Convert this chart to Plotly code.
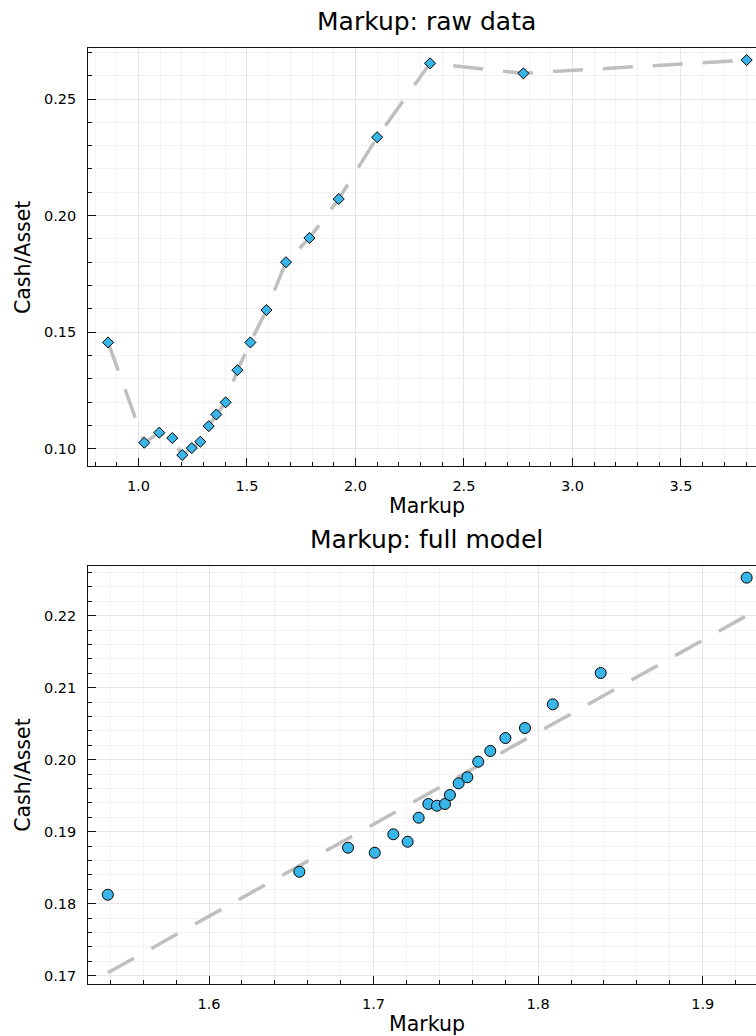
import plotly.graph_objects as go

# ---------------- data ----------------
raw_markup = [0.860, 1.027, 1.096, 1.156, 1.202, 1.246, 1.285, 1.324, 1.359, 1.402,
              1.456, 1.516, 1.590, 1.680, 1.788, 1.923, 2.100, 2.344, 2.774, 3.803]
raw_cash = [0.1456, 0.1026, 0.1069, 0.1046, 0.0973, 0.1003, 0.1030, 0.1097, 0.1147, 0.1199,
            0.1337, 0.1456, 0.1595, 0.1800, 0.1904, 0.2071, 0.2336, 0.2653, 0.2610, 0.2667]

model_markup = [1.5385, 1.6549, 1.6845, 1.7007, 1.7120, 1.7207, 1.7274, 1.7333, 1.7385, 1.7434,
                1.7464, 1.7517, 1.7570, 1.7636, 1.7709, 1.7801, 1.7920, 1.8089, 1.8380, 1.9267]
model_cash = [0.18125, 0.18444, 0.18778, 0.18708, 0.18964, 0.18861, 0.19194, 0.19385, 0.19361, 0.19385,
              0.19510, 0.19672, 0.19756, 0.19972, 0.20121, 0.20301, 0.20440, 0.20769, 0.21204, 0.22528]

fit_markup = [1.5385, 1.9267]
fit_cash = [0.1704, 0.2200]

titles = ["Markup: raw data", "Markup: full model"]
x_label = "Markup"
y_label = "Cash/Asset"

# ---------------- style ----------------
W, H = 756, 1036
FONT = "DejaVu Sans"
MARKER_COLOR = "#38b5e9"
LINE_COLOR = "#bfbfbf"
DASH = "30px,20px"
GRID = "#e6e6e6"
MINOR_GRID = "#f3f3f3"
AXIS_COLOR = "#111111"

def py(p):
    return 1 - p / H

def px(p):
    return p / W

fig = go.Figure()

# top panel
fig.add_trace(go.Scatter(x=raw_markup, y=raw_cash, mode="lines",
                         line=dict(color=LINE_COLOR, width=3.5, dash=DASH),
                         xaxis="x", yaxis="y", hoverinfo="skip"))
fig.add_trace(go.Scatter(x=raw_markup, y=raw_cash, mode="markers",
                         marker=dict(symbol="diamond", size=8.5, color=MARKER_COLOR,
                                     line=dict(color="black", width=1)),
                         xaxis="x", yaxis="y"))
# bottom panel
fig.add_trace(go.Scatter(x=fit_markup, y=fit_cash, mode="lines",
                         line=dict(color=LINE_COLOR, width=3.5, dash=DASH),
                         xaxis="x2", yaxis="y2", hoverinfo="skip"))
fig.add_trace(go.Scatter(x=model_markup, y=model_cash, mode="markers",
                         marker=dict(symbol="circle", size=11, color=MARKER_COLOR,
                                     line=dict(color="black", width=1)),
                         xaxis="x2", yaxis="y2"))

tickfont = dict(family=FONT, size=14.5, color="black")

def xaxis(anchor, rng, dtick, minor, fmt):
    return dict(anchor=anchor, domain=[px(88.3), 1.0], range=rng,
                tick0=0, dtick=dtick, tickformat=fmt,
                ticks="inside", ticklen=8, tickwidth=1, tickcolor=AXIS_COLOR,
                showline=True, linecolor=AXIS_COLOR, linewidth=1.2, mirror=True,
                showgrid=True, gridcolor=GRID, gridwidth=1, zeroline=False,
                minor=dict(dtick=minor, ticks="inside", ticklen=4, tickcolor=AXIS_COLOR,
                           showgrid=True, gridcolor=MINOR_GRID, gridwidth=1),
                tickfont=tickfont, ticklabelstandoff=6)

def yaxis(anchor, dom, rng, dtick, minor, fmt):
    return dict(anchor=anchor, domain=dom, range=rng,
                tick0=0, dtick=dtick, tickformat=fmt,
                ticks="inside", ticklen=8, tickwidth=1, tickcolor=AXIS_COLOR,
                showline=True, linecolor=AXIS_COLOR, linewidth=1.2, mirror=False,
                showgrid=True, gridcolor=GRID, gridwidth=1, zeroline=False,
                minor=dict(dtick=minor, ticks="inside", ticklen=4, tickcolor=AXIS_COLOR,
                           showgrid=True, gridcolor=MINOR_GRID, gridwidth=1),
                tickfont=tickfont, ticklabelstandoff=8)

fig.update_layout(
    width=W, height=H,
    margin=dict(l=0, r=0, t=0, b=0),
    paper_bgcolor="white", plot_bgcolor="white",
    showlegend=False,
    font=dict(family=FONT, color="black"),
    xaxis=xaxis("y", [0.769, 3.846], 0.5, 0.1, ".1f"),
    yaxis=yaxis("x", [py(466), py(48.3)], [0.0926, 0.27175], 0.05, 0.01, ".2f"),
    xaxis2=xaxis("y2", [1.52666, 1.93238], 0.1, 0.02, ".1f"),
    yaxis2=yaxis("x2", [py(984), py(565.7)], [0.16885, 0.22694], 0.01, 0.002, ".2f"),
)

cx = px(427)
ann = []
# panel titles
ann.append(dict(text=titles[0], x=cx, y=py(21), xref="paper", yref="paper",
                xanchor="center", yanchor="middle", showarrow=False,
                font=dict(family=FONT, size=25, color="black")))
ann.append(dict(text=titles[1], x=cx, y=py(539), xref="paper", yref="paper",
                xanchor="center", yanchor="middle", showarrow=False,
                font=dict(family=FONT, size=25, color="black")))
# x axis titles
for yc in (506.2, 1023.6):
    ann.append(dict(text=x_label, x=cx, y=py(yc), xref="paper", yref="paper",
                    xanchor="center", yanchor="middle", showarrow=False,
                    font=dict(family=FONT, size=20.5, color="black")))
# y axis titles
for yc in (257.2, 774.9):
    ann.append(dict(text=y_label, x=px(22.9), y=py(yc), xref="paper", yref="paper",
                    xanchor="center", yanchor="middle", showarrow=False, textangle=-90,
                    font=dict(family=FONT, size=20.5, color="black")))
fig.update_layout(annotations=ann)

fig.write_html("out.html")
